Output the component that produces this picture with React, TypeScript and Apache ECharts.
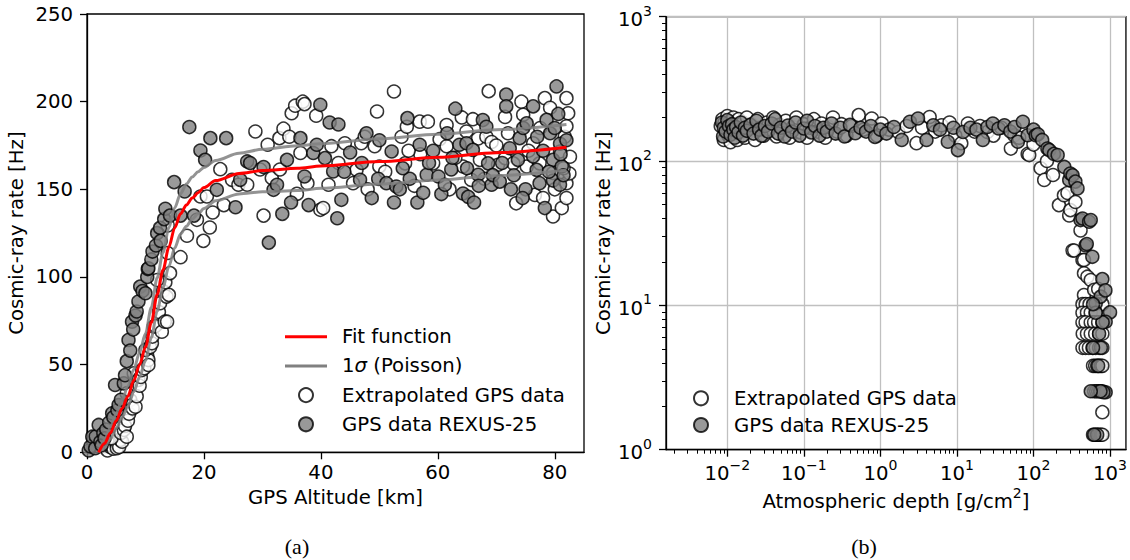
import React, { useEffect, useRef } from "react";
import * as echarts from "echarts";

const FONT = "DejaVu Sans";

// ---------- Panel (a): altitude vs rate ----------
const altTicks = [0, 20, 40, 60, 80];
const rateTicks = [0, 50, 100, 150, 200, 250];

const fitCurve = [
  [2, 0], [3, 5], [4, 11], [5, 18], [6, 25], [7, 32], [8, 41], [9, 50], [10, 60], [11, 74], [12, 90], [13, 104],
  [14, 117], [15, 128], [16, 136], [17, 141], [18, 145], [19, 148], [20, 151], [22, 155], [26, 159], [30, 160.7],
  [36, 162], [40, 163.3], [50, 165.8], [60, 168.3], [70, 170.9], [82, 174],
];
const sigmaUpper = [
  [2, 0], [3, 7.2], [4, 14.3], [5, 22.2], [6, 30], [7, 37.7], [8, 47.4], [9, 57], [10, 67.7], [11, 82.6], [12, 99.5],
  [13, 114], [14, 128], [15, 139.5], [16, 147.5], [17, 153], [18, 157], [19, 160], [20, 162.5], [22, 166.5],
  [26, 170.6], [30, 172.8], [36, 174.8], [40, 176], [50, 178.8], [60, 181.4], [70, 184], [82, 187],
];
const sigmaLower = [
  [2, 0], [3, 2.8], [4, 7.7], [5, 13.8], [6, 20], [7, 26.3], [8, 34.6], [9, 43], [10, 52.3], [11, 65.4], [12, 80.5],
  [13, 94], [14, 106], [15, 116.5], [16, 124.5], [17, 129], [18, 133], [19, 136], [20, 139], [22, 143.5],
  [26, 147.4], [30, 148.6], [36, 149.3], [40, 150.6], [50, 153], [60, 155.3], [70, 157.8], [82, 161],
];

const altExtrapolated = [
  [3.5, 1], [4, 3], [4, 4.2], [4.5, 2], [5, 5], [5.1, 2.3], [5.5, 3], [5.7, 7], [6, 6], [4.2, 8], [5.8, 11], [6.3, 12.7],
  [6.5, 15], [6.8, 8.9], [7, 18], [7.2, 22], [7.4, 29.8], [6.8, 33.6], [7.8, 25], [8.3, 26], [8, 45], [8.5, 32],
  [8.8, 41.3], [9, 38], [9.2, 43], [9.4, 46.9], [9.8, 48], [10.3, 55], [10.5, 52.7], [10.5, 49.8], [10, 58.4],
  [10.8, 60], [11.1, 62.2], [11.2, 66], [11.4, 71.7], [11.7, 72], [12.3, 80], [12.5, 85], [12.8, 68.8], [13, 92],
  [13.3, 74.5], [13.6, 88.8], [13.7, 74.5], [14, 89.8], [13.4, 97], [12, 98.3], [14.2, 102.2], [13.8, 113.7],
  [16, 111.3], [17.1, 123.5], [19.9, 120.6], [13.8, 129.4], [18.8, 132.6], [21, 128.2], [21.5, 136.8], [23.4, 141],
  [19.4, 145.9], [20.5, 145.9], [22.8, 161.5], [24.8, 155.4], [25.9, 152.6], [27.4, 152.6], [28.8, 183], [29.6, 161.3],
  [30.2, 135], [30.9, 175.4], [31.6, 156.4], [32.9, 179.2], [33, 161.3], [33.6, 184.6], [34.6, 180], [35, 193.4],
  [35.6, 197.7], [35.9, 147.4], [36.5, 170.7], [36.9, 200], [37.2, 198.6], [37.7, 153.5], [39.2, 192], [39.9, 138.3],
  [40.4, 139.3], [41.3, 152.6], [41.8, 174.6], [44.1, 176.3], [45.5, 153.5], [46.1, 161.1], [46.9, 176.3], [47.5, 180],
  [49.2, 174.6], [49.6, 194.4], [50, 163], [52.5, 205.8], [53.8, 180], [54.4, 164.8], [54.7, 185.7], [56, 152],
  [56.9, 188.6], [58.3, 188.6], [59.2, 164.8], [60.3, 178.6], [61.5, 186.7], [61.5, 174.6], [64.1, 191], [64.3, 163],
  [64.9, 183], [65.7, 155.4], [66.9, 179], [67.2, 166.8], [68.3, 180], [68.7, 206], [69.2, 177], [70.3, 164],
  [71.5, 191.3], [71.5, 167.8], [72.9, 164.8], [73.4, 142], [74.3, 200], [74.6, 192.5], [75.2, 163], [76.3, 176.3],
  [76.6, 146.8], [77.4, 164.8], [78.3, 202], [79.2, 196.5], [79.7, 134.5], [79.7, 159.3], [80.9, 171.6], [81.2, 139.3],
  [81.7, 180], [82, 145], [82, 153.5], [82, 202], [82.3, 193.4], [82.6, 168.6], [82.5, 159], [82, 186], [81.5, 162],
  [80, 150], [78, 145], [77.5, 185], [70, 175], [66, 190], [63, 168], [57, 170], [55, 172], [51, 160], [48, 150],
  [43, 165], [62, 150], [68, 156], [72, 182], [75.5, 172],
];

const altRexus = [
  [0.3, 1], [0.6, 3.3], [0.9, 8.9], [1.4, 2.3], [1.5, 9], [2, 15.6], [2.3, 6], [2.5, 4], [2.8, 10.8], [3, 8], [3.3, 13],
  [3.8, 17], [4.3, 22.3], [4.5, 20], [4.8, 38.4], [5.2, 24], [5.4, 27], [5.8, 30], [6.3, 39.3], [6.5, 44], [6.8, 52],
  [7.1, 64.1], [7.4, 58], [7.7, 74.5], [7.9, 70], [8.3, 78], [8.5, 80.3], [8.8, 86], [9.1, 94.5], [9.5, 92], [10, 90.7],
  [10.3, 100], [10.4, 104.5], [10.5, 105], [11, 110], [11.2, 114.5], [11.8, 118], [12, 125], [12.5, 128], [12.6, 120.6],
  [13.2, 133], [13.4, 138.9], [14.2, 135], [14.9, 154.1], [16, 135], [16.7, 148.8], [17.5, 185.5], [18.3, 135],
  [19.4, 172.1], [20.2, 166.8], [21.1, 179.2], [22.2, 149.7], [23.8, 179.2], [25.4, 139.8], [26.2, 155.4], [27.4, 165.9],
  [27.9, 165], [30.2, 162.7], [31.1, 119.6], [31.9, 149.7], [32.5, 152.6], [33.4, 136], [34.2, 166.8], [34.9, 142.5],
  [36.5, 179.2], [37.2, 157.3], [37.9, 141], [38.7, 170.7], [39.3, 175.4], [39.9, 198.2],
  [40.7, 167.8], [41.5, 188.1], [42.1, 160.2], [42.8, 133.5], [43.5, 144], [46.7, 155.4], [48.7, 145], [49.8, 156],
  [51.2, 153.5], [52.1, 171.6], [52.5, 142.5], [52.9, 151.6], [54.8, 190.6], [55.2, 156], [56.5, 142.5], [56.9, 175.4],
  [58.1, 158.3], [59.2, 172], [60.1, 157.3], [60.6, 147.3], [61.2, 152.6], [61.6, 182], [62.3, 161.3], [63, 196],
  [63.7, 175.4], [64.3, 147.6], [64.9, 176.3], [65.2, 145.7], [66, 172.5], [66.2, 142.5], [66.9, 158.3], [67.7, 189.5],
  [68.3, 185.7], [68.6, 164.8], [69.2, 152.6], [69.4, 158.1], [70.6, 154.4], [71.7, 204], [71.7, 197.3], [72.3, 173.4],
  [73.7, 166.8], [74, 179.2], [74.6, 185], [75.2, 187.7], [76.3, 197.3], [76.3, 168.7], [76.9, 161.1], [77.4, 153.5],
  [78.3, 139.3], [78.6, 189.6], [79.2, 182], [79.7, 166.8], [79.7, 155], [80.3, 208.7], [80.6, 193], [80.9, 176],
  [80.9, 152.6], [81.2, 163], [77, 180], [78, 172], [79, 160], [80, 185], [81, 170], [81.5, 158], [82, 178], [75, 150],
  [73, 158], [71, 165], [62.5, 168], [58.5, 165], [54, 162], [47, 165], [44, 160], [45, 171], [50, 178], [53.5, 150],
  [57.5, 148], [65, 162], [67, 152], [72.5, 150], [74.5, 145], [47.8, 182], [43, 187],
];

// ---------- Panel (b): atmospheric depth vs rate ----------
const depthTicks = [0.01, 0.1, 1, 10, 100, 1000];
const logRateTicks = [1, 10, 100, 1000];
const depthMinorTicks = [
  0.002, 0.003, 0.004, 0.005, 0.006, 0.007, 0.008, 0.009,
  0.02, 0.03, 0.04, 0.05, 0.06, 0.07, 0.08, 0.09,
  0.2, 0.3, 0.4, 0.5, 0.6, 0.7, 0.8, 0.9,
  2, 3, 4, 5, 6, 7, 8, 9,
  20, 30, 40, 50, 60, 70, 80, 90,
  200, 300, 400, 500, 600, 700, 800, 900,
];
const logRateMinorTicks = [2, 3, 4, 5, 6, 7, 8, 9, 20, 30, 40, 50, 60, 70, 80, 90, 200, 300, 400, 500, 600, 700, 800, 900];

const depthExtrapolated = [
  [0.0082, 175], [0.0086, 195], [0.009, 140], [0.0092, 185], [0.0097, 165], [0.01, 205], [0.0103, 150], [0.0108, 188],
  [0.011, 135], [0.0113, 172], [0.012, 200], [0.0125, 158], [0.013, 180], [0.0135, 140], [0.014, 195], [0.015, 165],
  [0.016, 185], [0.017, 145], [0.018, 200], [0.019, 160], [0.021, 180], [0.023, 140], [0.025, 195], [0.027, 170],
  [0.03, 150], [0.033, 185], [0.036, 165], [0.04, 200], [0.044, 148], [0.048, 178], [0.053, 162], [0.058, 190],
  [0.065, 145], [0.072, 172], [0.08, 200], [0.09, 158], [0.1, 180], [0.11, 145], [0.12, 170], [0.135, 195], [0.15, 160],
  [0.17, 182], [0.19, 145], [0.21, 172], [0.24, 200], [0.27, 160], [0.31, 180], [0.36, 150], [0.42, 175], [0.52, 208],
  [0.6, 165], [0.77, 197], [0.9, 150], [1.04, 182], [1.3, 165], [1.71, 159], [2.2, 175], [2.96, 133], [3.5, 170],
  [4.4, 202], [5.2, 160], [6.3, 177], [8, 185], [9.5, 150], [11.4, 133], [13.9, 182], [17, 160], [20, 175], [25, 159],
  [30, 150], [38, 170], [50.7, 122], [56, 151], [65, 145], [84, 112], [88, 110], [100, 130], [124, 89], [138, 74],
  [150, 100], [180, 80], [215, 49.5], [250, 58], [278, 60], [293, 42], [303, 45.7], [324, 24], [340, 24], [353, 52],
  [412, 33], [437, 20.6], [457, 20.6], [457, 16.7], [457, 11.8], [507, 15.8], [560, 15], [620, 12.8], [700, 13],
  [437, 10.2], [480, 10.2], [540, 10.2], [794, 10.2], [437, 8.89], [500, 8.89], [560, 8.89], [650, 8.89],
  [437, 7.62], [480, 7.62], [560, 7.62], [620, 7.62], [700, 7.62], [794, 7.62],
  [440, 6.35], [500, 6.35], [560, 6.35], [640, 6.35], [720, 6.35], [794, 6.35],
  [437, 5.08], [480, 5.08], [530, 5.08], [590, 5.08], [650, 5.08], [720, 5.08], [794, 5.08],
  [600, 3.81], [640, 3.81], [680, 3.81], [720, 3.81], [760, 3.81], [794, 3.81],
  [620, 2.54], [660, 2.54], [700, 2.54], [740, 2.54], [794, 2.54], [794, 1.82],
  [600, 1.27], [640, 1.27], [680, 1.27], [720, 1.27], [760, 1.27], [794, 1.27],
];

const depthRexus = [
  [0.0085, 185], [0.0088, 148], [0.009, 170], [0.0095, 160], [0.01, 192], [0.0105, 175], [0.011, 152], [0.0115, 180],
  [0.012, 165], [0.0125, 145], [0.013, 172], [0.014, 158], [0.015, 185], [0.016, 150], [0.017, 170], [0.018, 162],
  [0.02, 178], [0.022, 155], [0.024, 190], [0.026, 165], [0.028, 150], [0.031, 175], [0.034, 160], [0.038, 182],
  [0.042, 195], [0.046, 155], [0.05, 170], [0.056, 148], [0.062, 176], [0.07, 160], [0.078, 185], [0.088, 150],
  [0.1, 168], [0.11, 190], [0.125, 158], [0.14, 175], [0.16, 150], [0.18, 170], [0.2, 160], [0.23, 182], [0.26, 155],
  [0.3, 170], [0.34, 148], [0.4, 178], [0.47, 156], [0.55, 170], [0.65, 160], [0.75, 175], [0.85, 147], [1.0, 165],
  [1.2, 155], [1.5, 172], [1.9, 140], [2.43, 187], [3.1, 197], [4, 140], [4.9, 177], [6, 165], [7.6, 136], [9, 170],
  [10.3, 119], [12, 159], [15, 170], [18, 165], [21.8, 140], [25, 172], [29.4, 182], [35, 168], [41.7, 177], [50, 160],
  [56.6, 172], [62.5, 136], [72.6, 187], [84, 151], [100, 165], [107, 151], [114, 153], [130, 140], [152, 122],
  [161, 119], [185, 112], [207, 110], [253, 91], [293, 73.8], [303, 82], [324, 79.6], [353, 72], [376, 64.6], [412, 39],
  [437, 40], [480, 26], [497, 26.6], [533, 38], [560, 39], [587, 21.7], [650, 10.3], [755, 11.5], [794, 15.2],
  [1000, 8.94], [877, 7.7], [877, 2.5], [820, 2.5], [750, 2.54], [700, 3.81], [760, 5.08], [720, 6.35], [800, 7.62],
  [680, 1.27], [620, 1.27], [560, 2.54], [600, 5.08], [650, 8.89], [600, 10.2], [870, 12.7],
];

const EXTRAP = "Extrapolated GPS data";
const REXUS = "GPS data REXUS-25";
const FIT = "Fit function";
const SIGMA = "1σ (Poisson)";

const FS = 19.7;
const txt = { fontFamily: FONT, fontSize: FS, color: "#000" };
const supRich = {
  b: { fontFamily: FONT, fontSize: FS, color: "#000", lineHeight: 26, verticalAlign: "bottom" },
  s: { fontFamily: FONT, fontSize: 14, color: "#000", lineHeight: 14, verticalAlign: "top" },
  n: { fontFamily: FONT, fontSize: FS, color: "#000", lineHeight: 26, verticalAlign: "bottom" },
};
const powLabel = (v: number) => {
  const e = Math.round(Math.log10(v));
  return `{b|10}{s|${e < 0 ? "\u2212" + -e : e}}`;
};

const axisLineStyle = { color: "#000", width: 1.3 };

export default function App() {
  const ref = useRef<HTMLDivElement>(null);
  useEffect(() => {
    if (!ref.current) return;
    const chart = echarts.init(ref.current, null, { renderer: "svg" });
    const markerW = { color: "#ffffff", borderColor: "#000", borderWidth: 1.5 };
    const markerG = { color: "#808080", borderColor: "#000", borderWidth: 1.5 };
    const option: any = {
      animation: false,
      backgroundColor: "#fff",
      grid: [
        { left: 87, top: 14, width: 497, height: 438.3, show: true, borderColor: "#000", borderWidth: 1.3 },
        { left: 666, top: 16.7, width: 463, height: 433, show: true, borderColor: "#000", borderWidth: 1.3 },
      ],
      xAxis: [
        {
          gridIndex: 0, type: "value", min: 0, max: 85, position: "bottom",
          axisLine: { show: true, onZero: false, lineStyle: axisLineStyle },
          axisTick: { show: true, length: 7, lineStyle: axisLineStyle, customValues: altTicks },
          axisLabel: { ...txt, margin: 10, customValues: altTicks },
          splitLine: { show: false },
          name: "GPS Altitude [km]", nameLocation: "middle", nameGap: 30, nameTextStyle: txt,
        },
        {
          gridIndex: 1, type: "log", logBase: 10, min: 0.00158, max: 1614, position: "bottom",
          axisLine: { show: true, onZero: false, lineStyle: axisLineStyle },
          axisTick: { show: true, length: 7, lineStyle: axisLineStyle, customValues: depthTicks },
          axisLabel: { margin: 8, customValues: depthTicks, formatter: powLabel, rich: supRich },
          splitLine: { show: true, lineStyle: { color: "#c0c0c0", width: 1.3 } },
          minorTick: { show: false }, minorSplitLine: { show: false },
          name: "{n|Atmospheric depth [g/cm}{s|2}{n|]}", nameLocation: "middle", nameGap: 36, nameMoveOverlap: false,
          nameTextStyle: { ...txt, rich: supRich },
        },
        {
          gridIndex: 1, type: "log", logBase: 10, min: 0.00158, max: 1614, position: "bottom",
          axisLine: { show: false },
          axisTick: { show: true, length: 4, lineStyle: { color: "#000", width: 1 }, customValues: depthMinorTicks },
          axisLabel: { show: false },
          splitLine: { show: false },
        },
      ],
      yAxis: [
        {
          gridIndex: 0, type: "value", min: 0, max: 250, position: "left",
          axisLine: { show: true, onZero: false, lineStyle: axisLineStyle },
          axisTick: { show: true, length: 7, lineStyle: axisLineStyle, customValues: rateTicks },
          axisLabel: { ...txt, margin: 14, customValues: rateTicks },
          splitLine: { show: false },
          name: "Cosmic-ray rate [Hz]", nameLocation: "middle", nameGap: 61, nameTextStyle: txt,
        },
        {
          gridIndex: 1, type: "log", logBase: 10, min: 1, max: 1000, position: "left",
          axisLine: { show: true, onZero: false, lineStyle: axisLineStyle },
          axisTick: { show: true, length: 7, lineStyle: axisLineStyle, customValues: logRateTicks },
          axisLabel: { margin: 14, customValues: logRateTicks, formatter: powLabel, rich: supRich },
          splitLine: { show: true, lineStyle: { color: "#c0c0c0", width: 1.3 } },
          minorTick: { show: false }, minorSplitLine: { show: false },
          name: "Cosmic-ray rate [Hz]", nameLocation: "middle", nameGap: 53, nameTextStyle: txt,
        },
        {
          gridIndex: 1, type: "log", logBase: 10, min: 1, max: 1000, position: "left",
          axisLine: { show: false },
          axisTick: { show: true, length: 4, lineStyle: { color: "#000", width: 1 }, customValues: logRateMinorTicks },
          axisLabel: { show: false },
          splitLine: { show: false },
        },
      ],
      legend: [
        {
          data: [
            { name: FIT, icon: "path://M0,0L42,0L42,3L0,3Z" },
            { name: SIGMA, icon: "path://M0,0L42,0L42,3L0,3Z" },
            { name: EXTRAP },
            { name: REXUS },
          ],
          orient: "vertical", left: 285, top: 326.7, padding: 0, itemWidth: 42, itemHeight: 14, itemGap: 9.2,
          selectedMode: false,
          textStyle: { ...txt, lineHeight: 20, padding: [0, 0, 0, 10], rich: { i: { ...txt, fontStyle: "italic" } } },
          formatter: (n: string) => (n === SIGMA ? "1{i|σ} (Poisson)" : n),
        },
        {
          data: [{ name: EXTRAP }, { name: REXUS }],
          orient: "vertical", left: 693, top: 388.3, padding: 0, itemWidth: 42, itemHeight: 14, itemGap: 6.7,
          selectedMode: false,
          textStyle: { ...txt, lineHeight: 20, padding: [0, 0, 0, 7], rich: { i: { ...txt } } },
        },
      ],
      graphic: [
        { type: "text", x: 297, y: 546, style: { text: "(a)", fontFamily: "Liberation Serif", fontSize: 22, fill: "#000", align: "center", verticalAlign: "middle" } },
        { type: "text", x: 864, y: 546, style: { text: "(b)", fontFamily: "Liberation Serif", fontSize: 22, fill: "#000", align: "center", verticalAlign: "middle" } },
      ],
      series: [
        { name: EXTRAP, type: "scatter", xAxisIndex: 0, yAxisIndex: 0, data: altExtrapolated, symbol: "circle", symbolSize: 13, itemStyle: markerW, z: 2 },
        { name: REXUS, type: "scatter", xAxisIndex: 0, yAxisIndex: 0, data: altRexus, symbol: "circle", symbolSize: 13, itemStyle: markerG, z: 2 },
        { name: SIGMA, type: "line", xAxisIndex: 0, yAxisIndex: 0, data: sigmaUpper, symbol: "none", smooth: 0.3, smoothMonotone: "x", itemStyle: { color: "#808080" }, lineStyle: { color: "#808080", width: 3, opacity: 0.85 }, z: 3 },
        { name: SIGMA, type: "line", xAxisIndex: 0, yAxisIndex: 0, data: sigmaLower, symbol: "none", smooth: 0.3, smoothMonotone: "x", itemStyle: { color: "#808080" }, lineStyle: { color: "#808080", width: 3, opacity: 0.85 }, z: 3 },
        { name: FIT, type: "line", xAxisIndex: 0, yAxisIndex: 0, data: fitCurve, symbol: "none", smooth: 0.3, smoothMonotone: "x", itemStyle: { color: "#ff0000" }, lineStyle: { color: "#ff0000", width: 3 }, z: 4 },
        { name: EXTRAP, type: "scatter", xAxisIndex: 1, yAxisIndex: 1, data: depthExtrapolated, symbol: "circle", symbolSize: 13, itemStyle: markerW, z: 2 },
        { name: REXUS, type: "scatter", xAxisIndex: 1, yAxisIndex: 1, data: depthRexus, symbol: "circle", symbolSize: 13, itemStyle: markerG, z: 2 },
      ],
    };
    chart.setOption(option);
    return () => chart.dispose();
  }, []);
  return <div ref={ref} style={{ position: "absolute", left: 0, top: 0, width: 1130, height: 560 }} />;
}
